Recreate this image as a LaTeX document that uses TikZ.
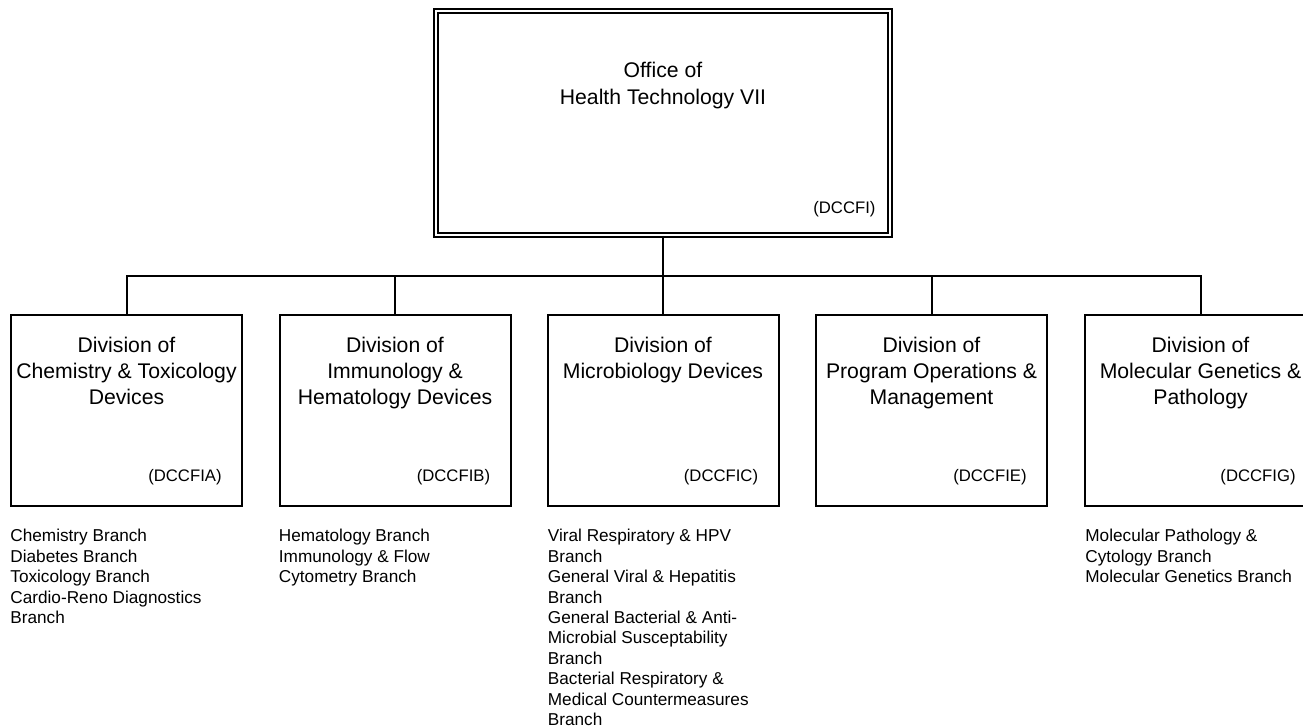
\documentclass[tikz,border=0pt]{standalone}
\usepackage{fontspec}
\setmainfont{Liberation Sans}
\begin{document}
\begin{tikzpicture}[x=0.5pt,y=-0.5pt,
  div/.style={draw, line width=1pt, minimum width=115.5pt, minimum height=95.5pt, inner sep=0pt},
  topbox/.style={draw, double, double distance=1pt, line width=0.9pt, minimum width=227pt, minimum height=112pt, inner sep=0pt},
  ttl/.style={anchor=north, align=center, inner sep=0pt, font=\fontsize{10.6}{13}\selectfont},
  code/.style={anchor=east, inner sep=0pt, font=\fontsize{8.35}{10.2}\selectfont},
  lst/.style={anchor=north west, align=left, inner sep=0pt, font=\fontsize{8.6}{10.2}\selectfont},
  conn/.style={line width=1pt}]
\useasboundingbox (0,0) rectangle (1303,728);

% top box
\node[topbox] (top) at (663,123) {};
\node[ttl, yshift=-26pt, font=\fontsize{10.6}{13.5}\selectfont] (toptitle) at (top.north) {Office of\\Health Technology VII};
\node[code, xshift=-7.5pt, yshift=13.5pt] (topcode) at (top.south east) {(DCCFI)};

% division boxes
\node[div] (b1) at (126.5,410.5) {};
\node[div] (b2) at (395,410.5) {};
\node[div] (b3) at (663,410.5) {};
\node[div] (b4) at (931.5,410.5) {};
\node[div] (b5) at (1200.5,410.5) {};

\node[ttl, yshift=-11.5pt] (t1) at (b1.north) {Division of\\Chemistry \& Toxicology\\Devices};
\node[ttl, yshift=-11.5pt] (t2) at (b2.north) {Division of\\Immunology \&\\Hematology Devices};
\node[ttl, yshift=-11.5pt] (t3) at (b3.north) {Division of\\Microbiology Devices};
\node[ttl, yshift=-11.5pt] (t4) at (b4.north) {Division of\\Program Operations \&\\Management};
\node[ttl, yshift=-11.5pt] (t5) at (b5.north) {Division of\\Molecular Genetics \&\\Pathology};

\node[code, xshift=-10.5pt, yshift=15pt] (c1) at (b1.south east) {(DCCFIA)};
\node[code, xshift=-10.5pt, yshift=15pt] (c2) at (b2.south east) {(DCCFIB)};
\node[code, xshift=-10.5pt, yshift=15pt] (c3) at (b3.south east) {(DCCFIC)};
\node[code, xshift=-10.5pt, yshift=15pt] (c4) at (b4.south east) {(DCCFIE)};
\node[code, xshift=-10.5pt, yshift=15pt] (c5) at (b5.south east) {(DCCFIG)};

% branch lists
\node[lst, yshift=-11pt] (l1) at (b1.south west) {Chemistry Branch\\Diabetes Branch\\Toxicology Branch\\Cardio-Reno Diagnostics\\Branch};
\node[lst, yshift=-11pt] (l2) at (b2.south west) {Hematology Branch\\Immunology \& Flow\\Cytometry Branch};
\node[lst, yshift=-11pt, xshift=0.5pt] (l3) at (b3.south west) {Viral Respiratory \& HPV\\Branch\\General Viral \& Hepatitis\\Branch\\General Bacterial \& Anti-\\Microbial Susceptability\\Branch\\Bacterial Respiratory \&\\Medical Countermeasures\\Branch};
\node[lst, yshift=-11pt, xshift=0.5pt] (l5) at (b5.south west) {Molecular Pathology \&\\Cytology Branch\\Molecular Genetics Branch};

% connectors
\coordinate (bus) at (663,276);
\draw[conn] (top.south) -- (bus);
\draw[conn] (b1.north) |- (bus) -| (b5.north);
\draw[conn] (b2.north) -- (b2.north |- bus);
\draw[conn] (b3.north) -- (bus);
\draw[conn] (b4.north) -- (b4.north |- bus);
\end{tikzpicture}
\end{document}
